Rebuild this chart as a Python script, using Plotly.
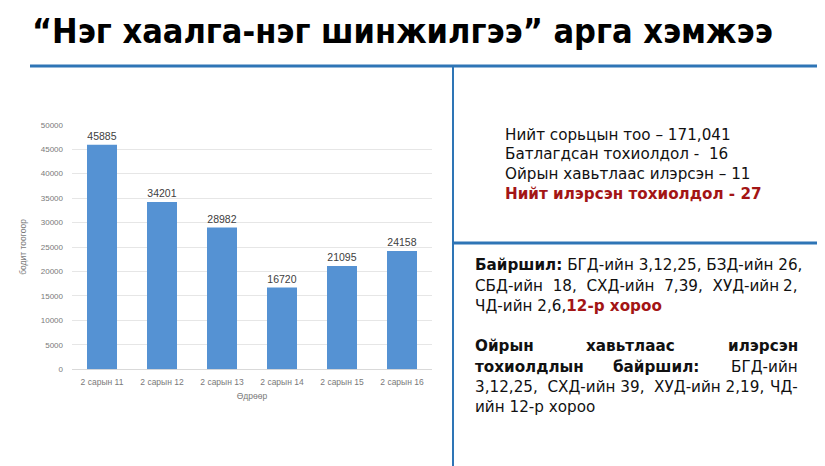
import plotly.graph_objects as go

# data
days = ["2 сарын 11", "2 сарын 12", "2 сарын 13", "2 сарын 14", "2 сарын 15", "2 сарын 16"]
tests = [45885, 34201, 28982, 16720, 21095, 24158]
y_ticks = [0, 5000, 10000, 15000, 20000, 25000, 30000, 35000, 40000, 45000, 50000]

title_text = "“Нэг хаалга-нэг шинжилгээ” арга хэмжээ"
summary_lines = [
    "Нийт сорьцын тоо – 171,041",
    "Батлагдсан тохиолдол -  16",
    "Ойрын хавьтлаас илэрсэн – 11",
]
summary_total = "Нийт илэрсэн тохиолдол - 27"

# the page body has an 8px margin, so the figure is drawn 8px in from the corner
OFF = 8
W, H = 825 - OFF, 466 - OFF
RED = "#a31515"
LINE = "#2e75b6"
TXT_FONT = "DejaVu Sans"
TXT_SIZE = 15.2
NB2 = "\u00a0\u00a0"


def px(x):
    return (x - OFF) / W


def py(y):
    return 1 - (y - OFF) / H


fig = go.Figure()

fig.add_trace(go.Bar(
    x=days, y=tests,
    marker=dict(color="#5592d3", line=dict(width=0)),
    width=0.5,
    text=[str(v) for v in tests],
    textposition="outside",
    textfont=dict(size=10.5, color="#404040", family="Liberation Sans"),
    cliponaxis=False,
))

fig.update_xaxes(
    domain=[px(72), px(432)],
    tickfont=dict(size=8.5, color="#7a7a7a", family="Liberation Sans"),
    ticklabelstandoff=6,
    showgrid=False,
    showline=False,
    title=dict(text="Өдрөөр", font=dict(size=8.5, color="#7a7a7a", family="Liberation Sans"), standoff=7),
)
fig.update_yaxes(
    domain=[py(369.3), py(124.7)],
    range=[0, 50000],
    tickvals=y_ticks,
    ticktext=[str(t) for t in y_ticks],
    tickfont=dict(size=8, color="#7a7a7a", family="Liberation Sans"),
    ticklabelstandoff=8,
    gridcolor="#e6e6e6",
    gridwidth=1,
    zeroline=True,
    zerolinecolor="#d9d9d9",
    zerolinewidth=1,
    title=dict(text="бодит тоогоор", font=dict(size=8.5, color="#7a7a7a", family="Liberation Sans"), standoff=12),
)

# slide frame lines
shapes = [
    dict(type="line", xref="paper", yref="paper", x0=px(30), x1=1, y0=py(66), y1=py(66),
         line=dict(color=LINE, width=3)),
    dict(type="line", xref="paper", yref="paper", x0=px(453), x1=px(453), y0=py(66), y1=0,
         line=dict(color=LINE, width=2)),
    dict(type="line", xref="paper", yref="paper", x0=px(453), x1=1, y0=py(243), y1=py(243),
         line=dict(color=LINE, width=3)),
]

ann = []


def put(text, x, y, anchor="left", size=TXT_SIZE, color="#111111", family=TXT_FONT):
    ann.append(dict(text=text, x=px(x), y=py(y), xref="paper", yref="paper",
                    xanchor=anchor, yanchor="middle",
                    font=dict(size=size, color=color, family=family), showarrow=False))


put("<b>" + title_text + "</b>", 30, 31, size=34, color="#000000",
    family="Liberation Sans Narrow, DejaVu Sans Condensed")

# upper right summary
for i, line in enumerate(summary_lines):
    put(line, 503, 134.5 + i * 19.8)
put("<b>" + summary_total + "</b>", 503, 194, color=RED)

# lower right location text (justified lines: last word pinned to the right edge)
put("<b>Байршил:</b> БГД-ийн 3,12,25, БЗД-ийн 26,", 473, 265)
put(NB2.join(["СБД-ийн", "18,", "СХД-ийн", "7,39,", "ХУД-ийн"]), 473, 285.5)
put("2,", 800, 285.5, "right")
put("ЧД-ийн 2,6,<b><span style='color:" + RED + "'>12-р хороо</span></b>", 473, 306)
put("<b>Ойрын</b>", 473, 346)
put("<b>хавьтлаас</b>", 630, 346, "center")
put("<b>илэрсэн</b>", 800, 346, "right")
put("<b>тохиолдлын</b>", 473, 366.5)
put("<b>байршил:</b>", 656, 366.5, "center")
put("БГД-ийн", 800, 366.5, "right")
put("3,12,25," + NB2 + "СХД-ийн 39," + NB2 + "ХУД-ийн 2,19,", 473, 387)
put("ЧД-", 800, 387, "right")
put("ийн 12-р хороо", 473, 407)

fig.update_layout(
    width=W, height=H,
    margin=dict(l=0, r=0, t=0, b=0, autoexpand=False),
    paper_bgcolor="white",
    plot_bgcolor="white",
    showlegend=False,
    bargap=0.5,
    shapes=shapes,
    annotations=ann,
)

fig.write_html("out.html")
